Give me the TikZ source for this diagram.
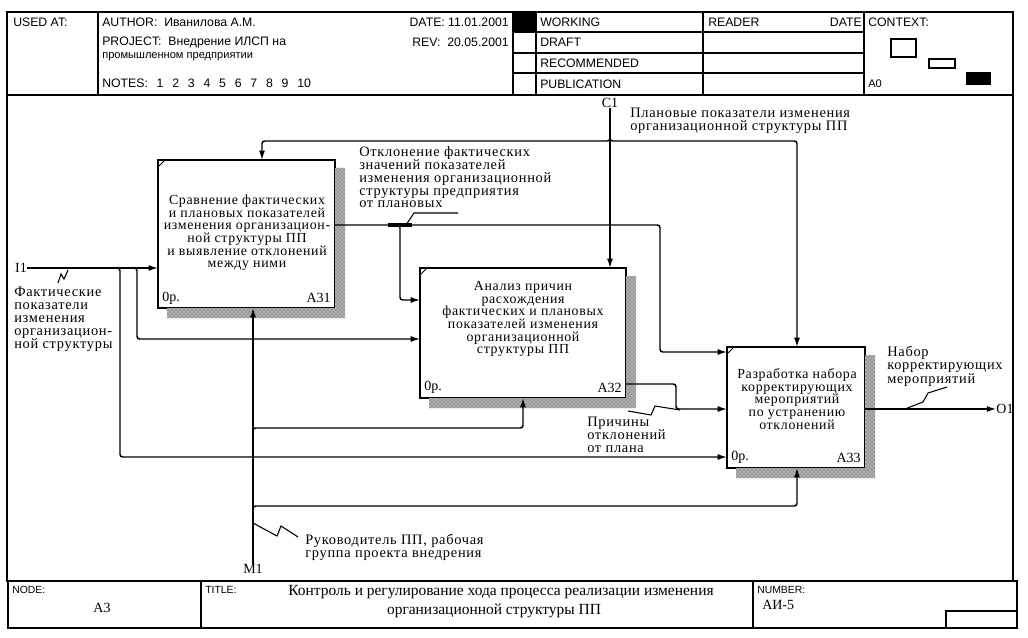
\documentclass[tikz,border=0pt]{standalone}
\usepackage{fontspec}
\setmainfont{Liberation Serif}
\newfontfamily\hdrfont{Liberation Sans}
\newfontfamily\lblfont[LetterSpace=5]{Liberation Serif}
\newfontfamily\lblfontb[LetterSpace=5]{Liberation Serif}
\usetikzlibrary{arrows.meta,patterns,calc}
\newcommand{\nsp}{\hspace{6.6pt}}
\begin{document}
\begin{tikzpicture}[x=0.75pt,y=-0.75pt,
  frame/.style={line width=1pt},
  hdr/.style={font=\hdrfont\fontsize{9.2}{11}\selectfont, inner sep=0pt, anchor=west},
  hdrs/.style={font=\hdrfont\fontsize{8.3}{10}\selectfont, inner sep=0pt, anchor=west},
  hdrf/.style={font=\hdrfont\fontsize{7.8}{9}\selectfont, inner sep=0pt, anchor=west},
  proc/.style={draw, line width=1.1pt, fill=white, inner sep=0pt, outer sep=0pt},
  ptext/.style={font=\lblfont\fontsize{10.4}{9.5}\selectfont, align=center, inner sep=0pt},
  blab/.style={font=\fontsize{10.5}{12}\selectfont, inner sep=0pt},
  dlab/.style={font=\fontsize{10.5}{12}\selectfont, inner sep=0pt},
  lbl/.style={font=\lblfontb\fontsize{10.8}{9.7}\selectfont, align=left, inner sep=0pt, anchor=north west},
  conn/.style={line width=1.1pt, rounded corners=2pt},
  arr/.style={conn, -{Latex[length=7pt,width=4.5pt]}},
  sq/.style={line width=0.8pt},
  shadowfill/.style={fill=black!30, postaction={pattern=crosshatch dots, pattern color=black!80}},
  cornermark/.style={line width=0.6pt}
]
\fill[white] (0,0) rectangle (1028,638);
\useasboundingbox (0,0) rectangle (1028,638);

% ---------- frame and header ----------
\draw[frame] (7,12) rectangle (1013,581);
\draw[frame] (7,95) -- (1013,95);
\foreach \x in {98,513,536,703,864} \draw[frame] (\x,12) -- (\x,95);
\foreach \y in {32,53,73} \draw[frame] (513,\y) -- (864,\y);
\fill (513,12) rectangle (536,32);
\draw[line width=0.8pt] (891,39) rectangle (916,57);
\draw[line width=0.8pt] (929,59) rectangle (955,68);
\fill (966,72) rectangle (991,85);

\node[hdr] (usedat) at (13,22) {USED AT:};
\node[hdr] (author) at (102,22) {AUTHOR:\ \ Иванилова А.М.};
\node[hdr] (project) at (102,42) {PROJECT:\ \ Внедрение ИЛСП на};
\node[hdrs] (project2) at (102,57) {промышленном предприятии};
\node[hdr] (notes) at (102,83) {NOTES:\nsp 1\nsp 2\nsp 3\nsp 4\nsp 5\nsp 6\nsp 7\nsp 8\nsp 9\nsp 10};
\node[hdr, anchor=east] (date) at (509,22) {DATE: 11.01.2001};
\node[hdr, anchor=east] (rev) at (509,42) {REV:\ \ 20.05.2001};
\node[hdr] (working) at (540,22) {WORKING};
\node[hdr] (draft) at (540,42) {DRAFT};
\node[hdr] (recom) at (540,63) {RECOMMENDED};
\node[hdr] (publ) at (540,84) {PUBLICATION};
\node[hdr] (reader) at (708,22) {READER};
\node[hdr, anchor=east] (rdate) at (862,22) {DATE};
\node[hdr] (context) at (868,22) {CONTEXT:};
\node[hdrs] (a0) at (868,84) {A0};

% ---------- footer ----------
\draw[frame] (8,581) rectangle (1017,628);
\draw[frame] (201,581) -- (201,628);
\draw[frame] (753,581) -- (753,628);
\draw[frame] (946,628) |- (1017,611);
\node[hdrf] (nodel) at (12,590) {NODE:};
\node[blab] (nodev) at (102,608) {A3};
\node[hdrf] (titlel) at (205,590) {TITLE:};
\node[font=\fontsize{11.6}{12}\selectfont, inner sep=0pt] (title1) at (501,592) {Контроль и регулирование хода процесса реализации изменения};
\node[font=\fontsize{11.6}{12}\selectfont, inner sep=0pt] (title2) at (494,611) {организационной структуры ПП};
\node[hdrf] (numl) at (757,590) {NUMBER:};
\node[blab, anchor=west] (numv) at (762,605) {АИ-5};

% ---------- activity boxes ----------
\node[proc, minimum width=132.75pt, minimum height=111pt] (a31) at (246.5,234) {};
\node[proc, minimum width=154.5pt, minimum height=97.5pt] (a32) at (523,333) {};
\node[proc, minimum width=103.5pt, minimum height=90.75pt] (a33) at (796,407.5) {};

\foreach \b in {a31,a32,a33}{
  \fill[shadowfill] ($(\b.north east)+(0,8)$) -- ($(\b.north east)+(10,8)$) -- ($(\b.south east)+(10,10)$)
     -- ($(\b.south west)+(9,10)$) -- ($(\b.south west)+(9,0)$) -- (\b.south east) -- cycle;
  \draw[cornermark] ($(\b.north west)+(0,7)$) -- ($(\b.north west)+(7,0)$);
}

\node[ptext] (a31t) at (247,233) {Сравнение фактических\\и плановых показателей\\изменения организацион-\\ной структуры ПП\\и выявление отклонений\\между ними};
\node[ptext] (a32t) at (523,319) {Анализ причин\\расхождения\\фактических и плановых\\показателей изменения\\организационной\\структуры ПП};
\node[ptext] (a33t) at (797,399) {Разработка набора\\корректирующих\\мероприятий\\по устранению\\отклонений};

\node[blab, anchor=west] (a31p) at ($(a31.south west)+(4,-10)$) {0р.};
\node[blab, anchor=east] (a31n) at ($(a31.south east)+(-4,-10)$) {A31};
\node[blab, anchor=west] (a32p) at ($(a32.south west)+(4,-10.5)$) {0р.};
\node[blab, anchor=east] (a32n) at ($(a32.south east)+(-4,-10.5)$) {A32};
\node[blab, anchor=west] (a33p) at ($(a33.south west)+(4,-10.5)$) {0р.};
\node[blab, anchor=east] (a33n) at ($(a33.south east)+(-4,-10.5)$) {A33};

% ---------- boundary labels ----------
\node[dlab] (i1) at (21,268) {I1};
\node[dlab] (c1) at (610,103) {C1};
\node[dlab] (o1) at (1005,409) {O1};
\node[dlab] (m1) at (253,569) {M1};

% ---------- connectors ----------
% input I1
\draw[arr] (i1.east) -- (a31.west |- i1.east);
\coordinate (j1) at (120,268);
\coordinate (j2) at (137,268);
\draw[arr] ($(j1)+(-5,0)$) -- (j1) -- (120,457) -- (a33.west |- 0,457);
\draw[arr] ($(j2)+(-5,0)$) -- (j2) -- (137,339) -- (a32.west |- 0,339);

% control C1
\draw[arr] (c1.south) -- (a32.north -| c1.south);
\coordinate (jc) at (610,141);
\draw[arr] ($(jc)+(0,-5)$) -- (jc) -- (262,141) -- (a31.north -| 262,0);
\draw[arr] ($(jc)+(0,-5)$) -- (jc) -- (797,141) -- (a33.north -| 797,0);

% A31 output
\coordinate (o31) at (a31.east |- 0,225);
\draw[arr] (o31) -- (660,225) -- (660,352) -- (a33.west |- 0,352);
\coordinate (j3) at (400,225);
\draw[arr] ($(j3)+(-5,0)$) -- (j3) -- (400,300) -- (a32.west |- 0,300);

% A32 output
\coordinate (o32) at (a32.east |- 0,384);
\draw[arr] (o32) -- (676,384) -- (676,409) -- (a33.west |- 0,409);

% A33 output
\draw[arr] (a33.east |- o1.west) -- (o1.west);

% mechanism M1
\draw[arr] (m1.north) -- (a31.south -| m1.north);
\coordinate (jm1) at (253,428);
\coordinate (jm2) at (253,506);
\draw[arr] ($(jm1)+(0,5)$) -- (jm1) -- (523,428) -- (a32.south -| 523,0);
\draw[arr] ($(jm2)+(0,5)$) -- (jm2) -- (797,506) -- (a33.south -| 797,0);

% ---------- arrow labels and squiggles ----------
\node[lbl] (li1) at (14,287) {Фактические\\показатели\\изменения\\организацион-\\ной структуры};
\draw[sq] (68,270) -- (64,279) -- (61,274) -- (58,283);

\node[lbl] (lo31) at (359,146) {Отклонение фактических\\значений показателей\\изменения организационной\\структуры предприятия\\от плановых};
\draw[sq] (458,213) -- (414,213) -- (406,225);
\draw[line width=2.6pt] (388,225) -- (412,225);

\node[lbl] (lc1) at (630,108) {Плановые показатели изменения\\организационной структуры ПП};

\node[lbl] (lo32) at (587,417) {Причины\\отклонений\\от плана};
\draw[sq] (628,411) -- (651,415) -- (655,406) -- (680,410);

\node[lbl] (lo1) at (887,346) {Набор\\корректирующих\\мероприятий};
\draw[sq] (947,387) -- (928,393) -- (923,402) -- (905,409);

\node[lbl] (lm1) at (305,534) {Руководитель ПП, рабочая\\группа проекта внедрения};
\draw[sq] (253,523) -- (277,536) -- (281,526) -- (298,537);
\end{tikzpicture}
\end{document}
